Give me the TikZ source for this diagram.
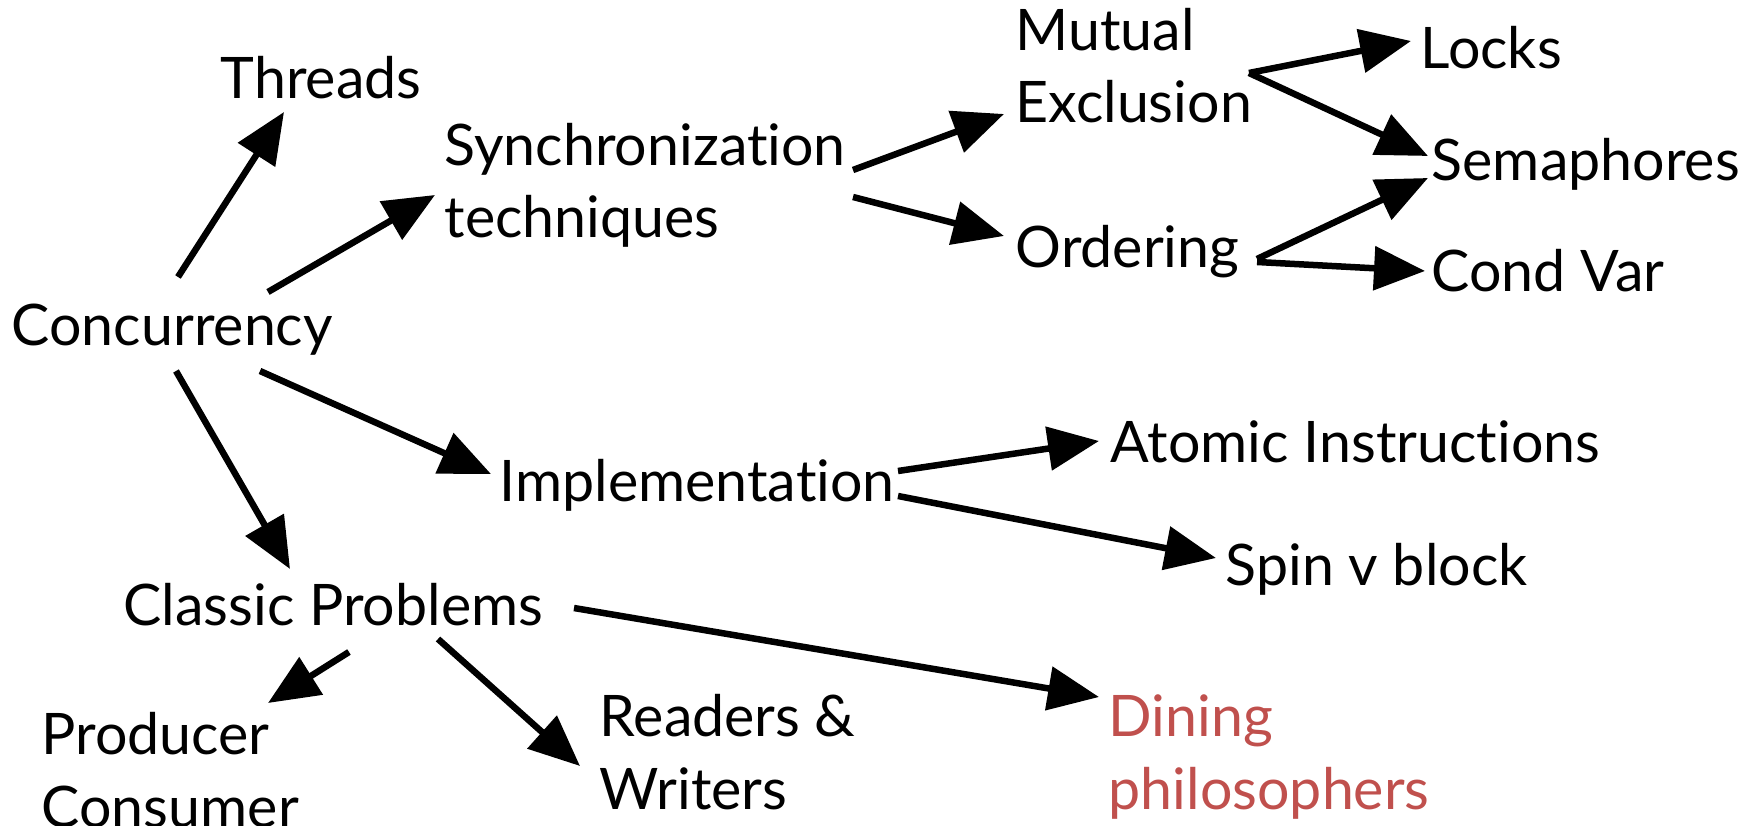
\documentclass[tikz,border=0pt]{standalone}
\usepackage{fontspec}
\setmainfont{Lato}[Ligatures=NoCommon]
\usepackage{tikz}
\usetikzlibrary{arrows.meta}
\definecolor{dinered}{RGB}{192,80,77}

\begin{document}
\begin{tikzpicture}[x=0.1mm,y=-0.1mm,
  lbl/.style={anchor=base west,inner sep=0pt,align=left,
    font=\fontsize{16.3}{20.6}\selectfont},
  arr/.style={line width=0.65mm,-{Triangle[length=5.1mm,width=4.3mm]}}]
  \useasboundingbox (0,0) rectangle (1749,826);

  \node[lbl] (conc) at (11,346) {Concurrency};
  \node[lbl] (threads) at (220,99) {Threads};
  \node[lbl] (sync) at (444,238) {Synchronization\\techniques};
  \node[lbl] (mutex) at (1015,123) {Mutual\\Exclusion};
  \node[lbl] (order) at (1015,268) {Ordering};
  \node[lbl] (locks) at (1420,69) {Locks};
  \node[lbl] (sema) at (1431,181) {Semaphores};
  \node[lbl] (condvar) at (1431,292) {Cond Var};
  \node[lbl] (impl) at (499,502) {Implementation};
  \node[lbl] (atomic) at (1110,463) {Atomic Instructions};
  \node[lbl] (spin) at (1225,586) {Spin v block};
  \node[lbl] (classic) at (123,625) {Classic Problems};
  \node[lbl] (prodcons) at (41,827) {Producer\\Consumer};
  \node[lbl] (readers) at (599,809) {Readers \&\\Writers};
  \node[lbl,text=dinered] (dining) at (1108,809) {Dining\\philosophers};

  \draw[arr] ([shift={(167,-69)}]conc.base west) -- ([shift={(64,13)}]threads.base west);
  \draw[arr] ([shift={(257,-54)}]conc.base west) -- ([shift={(-9,-43)}]sync.base west);
  \draw[arr] ([shift={(249,25)}]conc.base west) -- ([shift={(-8,-28)}]impl.base west);
  \draw[arr] ([shift={(165,25)}]conc.base west) -- ([shift={(167,-56)}]classic.base west);

  \draw[arr] ([shift={(409,-68)}]sync.base west) -- ([shift={(-11,-9)}]mutex.base west);
  \draw[arr] ([shift={(409,-41)}]sync.base west) -- ([shift={(-11,-32)}]order.base west);

  \draw[arr] ([shift={(234,-50)}]mutex.base west) -- ([shift={(-9,-28)}]locks.base west);
  \draw[arr] ([shift={(234,-50)}]mutex.base west) -- ([shift={(-3,-25)}]sema.base west);
  \draw[arr] ([shift={(242,-9)}]order.base west) -- ([shift={(-3,-3)}]sema.base west);
  \draw[arr] ([shift={(242,-6)}]order.base west) -- ([shift={(-6,-21)}]condvar.base west);

  \draw[arr] ([shift={(399,-31)}]impl.base west) -- ([shift={(-11,-22)}]atomic.base west);
  \draw[arr] ([shift={(399,-6)}]impl.base west) -- ([shift={(-9,-28)}]spin.base west);

  \draw[arr] ([shift={(226,27)}]classic.base west) -- ([shift={(227,-124)}]prodcons.base west);
  \draw[arr] ([shift={(315,14)}]classic.base west) -- ([shift={(-19,-43)}]readers.base west);
  \draw[arr] ([shift={(451,-17)}]classic.base west) -- ([shift={(-9,-112)}]dining.base west);
\end{tikzpicture}
\end{document}
